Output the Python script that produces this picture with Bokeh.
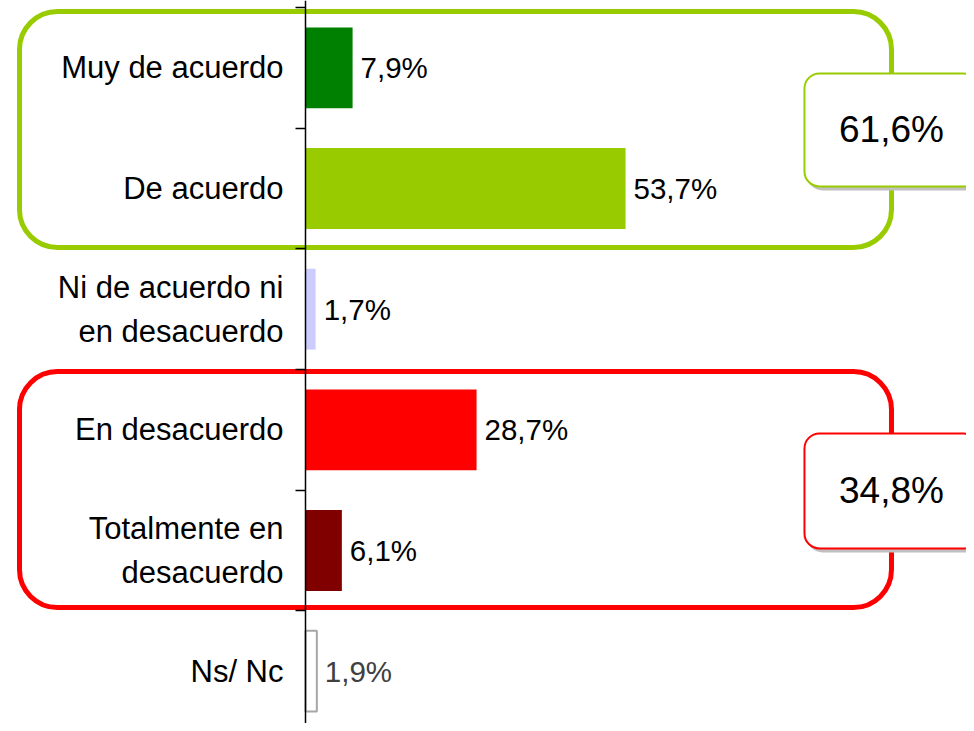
from bokeh.plotting import figure
from bokeh.models import BoxAnnotation, LinearAxis, FixedTicker, Range1d, ColumnDataSource
from bokeh.core.properties import value
from bokeh.embed import file_html
from bokeh.resources import INLINE

# ---- data ----
categories = ["Muy de acuerdo", "De acuerdo", "Ni de acuerdo ni\nen desacuerdo",
              "En desacuerdo", "Totalmente en\ndesacuerdo", "Ns/ Nc"]
values = [7.9, 53.7, 1.7, 28.7, 6.1, 1.9]
bar_colors = ["#008000", "#99CC00", "#CCCCFF", "#FF0000", "#800000", "#FFFFFF"]
bar_line_colors = [None, None, None, None, None, "#A6A6A6"]
value_text_colors = ["#000000", "#000000", "#000000", "#000000", "#000000", "#404040"]
group_totals = [61.6, 34.8]
group_colors = ["#99CC00", "#FF0000"]

def fmt(v):
    return f"{v:.1f}".replace(".", ",") + "%"

n = len(categories)
ypos = [n - 0.5 - i for i in range(n)]

W, H = 966, 723
x0_px = 305.0
px_per_unit = 5.96
py_per_unit = 120.67
top_px = 7.0
p = figure(width=W, height=H, output_backend="svg", toolbar_location=None,
           x_range=Range1d(-x0_px / px_per_unit, (W - x0_px) / px_per_unit),
           y_range=Range1d(n - (H - top_px) / py_per_unit, n + top_px / py_per_unit),
           min_border=0, min_border_left=0, min_border_right=0,
           min_border_top=0, min_border_bottom=0,
           x_axis_type=None, y_axis_type=None)
p.outline_line_color = None
p.xgrid.visible = False
p.ygrid.visible = False
p.background_fill_color = "white"
p.border_fill_color = "white"

# group boxes (large rounded frames) and callouts
group_spans = [(5.967, 4.011), (2.983, 1.027)]
callout_spans = [(5.453, 4.517), (2.470, 1.517)]
box_left, box_right = -47.99, 98.32
call_left, call_right = 83.72, 112.9
dx_sh = 3.0 / px_per_unit
dy_sh = 4.0 / py_per_unit

for (top, bot), col in zip(group_spans, group_colors):
    p.add_layout(BoxAnnotation(left=box_left, right=box_right, top=top, bottom=bot,
                               fill_alpha=0, line_color=col, line_alpha=1, line_width=5,
                               border_radius=38, level="underlay"))
for (top, bot), col in zip(callout_spans, group_colors):
    p.add_layout(BoxAnnotation(left=call_left + dx_sh, right=call_right + dx_sh,
                               top=top - dy_sh, bottom=bot - dy_sh,
                               fill_color="#C0C0C0", fill_alpha=1, line_color=None,
                               border_radius=15, level="underlay"))
    p.add_layout(BoxAnnotation(left=call_left, right=call_right, top=top, bottom=bot,
                               fill_color="white", fill_alpha=1, line_color=col,
                               line_alpha=1, line_width=2,
                               border_radius=15, level="underlay"))

src = ColumnDataSource(dict(y=ypos, v=values, c=bar_colors, lc=bar_line_colors,
                            cat=categories, lab=[fmt(v) for v in values],
                            tc=value_text_colors))
p.hbar(y="y", right="v", left=0, height=0.67, fill_color="c", line_color="lc",
       line_width=2, source=src)

p.text(x=0, y="y", text="cat", source=src, x_offset=-22, text_align="right",
       text_baseline="middle", text_font=value("Liberation Sans"),
       text_font_size="31px", text_color="black", text_line_height=1.25)
p.text(x="v", y="y", text="lab", source=src, x_offset=8, text_align="left",
       text_baseline="middle", text_font=value("Liberation Sans"),
       text_font_size="29.5px", text_color="tc")

call_cy = [(t + b) / 2 for t, b in callout_spans]
p.text(x=[box_right] * 2, y=call_cy, text=[fmt(t) for t in group_totals],
       text_align="center", text_baseline="middle", text_font=value("Liberation Sans"),
       text_font_size="37px", text_color="black")

# vertical axis at x=0 with ticks at category boundaries
ax = LinearAxis(fixed_location=0, ticker=FixedTicker(ticks=list(range(n + 1))),
                major_tick_out=10, major_tick_in=0, minor_tick_line_color=None,
                major_label_text_font_size="0px", axis_line_color="black",
                axis_line_width=1.5, major_tick_line_color="black",
                major_tick_line_width=1.5)
ax.major_label_text_color = None
p.add_layout(ax, "left")

open("out.html", "w").write(file_html(p, INLINE))
